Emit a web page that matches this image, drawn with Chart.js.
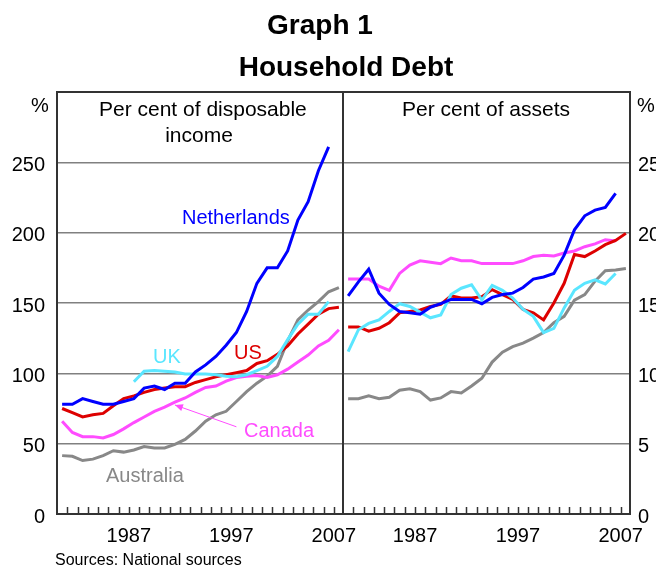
<!DOCTYPE html>
<html>
<head>
<meta charset="utf-8">
<script src="https://cdn.jsdelivr.net/npm/chart.js@4.4.1/dist/chart.umd.min.js"></script>
<style>
  html, body { margin:0; padding:0; background:#fff; }
  #wrap { position:relative; width:656px; height:567px; overflow:hidden; font-family:"Liberation Sans", Arial, sans-serif; }
  canvas { position:absolute; left:0; top:0; }
  .t { position:absolute; white-space:nowrap; color:#000; }
</style>
</head>
<body>
<div id="wrap">
  <canvas id="cLeft" width="656" height="567"></canvas>
  <canvas id="cRight" width="656" height="567"></canvas>
  <div class="t" style="left:220px;width:200px;text-align:center;top:11px;font-size:28px;line-height:28px;font-weight:bold;">Graph 1</div>
  <div class="t" style="left:196px;width:300px;text-align:center;top:53px;font-size:28px;line-height:28px;font-weight:bold;">Household Debt</div>
  <div class="t" style="left:99px;width:200px;text-align:center;top:96px;font-size:21px;line-height:26px;">Per cent of disposable<br>income</div>
  <div class="t" style="left:386px;width:200px;text-align:center;top:96px;font-size:21px;line-height:26px;">Per cent of assets</div>
  <div class="t" style="left:31px;top:95px;font-size:20px;line-height:20px;">%</div>
  <div class="t" style="left:637px;top:95px;font-size:20px;line-height:20px;">%</div>
  <div class="t" style="left:182px;top:207px;font-size:20px;line-height:20px;color:#0000ff;">Netherlands</div>
  <div class="t" style="left:153px;top:346px;font-size:20px;line-height:20px;color:#5ae6ff;">UK</div>
  <div class="t" style="left:234px;top:342px;font-size:20px;line-height:20px;color:#dd0000;">US</div>
  <div class="t" style="left:244px;top:420px;font-size:20px;line-height:20px;color:#ff4cff;">Canada</div>
  <div class="t" style="left:106px;top:465px;font-size:20px;line-height:20px;color:#888888;">Australia</div>
  <div class="t" style="left:55px;top:552px;font-size:16px;line-height:16px;">Sources: National sources</div>
</div>
<script>
// ---- data ----
const years = [1980,1981,1982,1983,1984,1985,1986,1987,1988,1989,1990,1991,1992,1993,1994,1995,1996,1997,1998,1999,2000,2001,2002,2003,2004,2005,2006,2007];

// Per cent of disposable income
const netherlandsIncome = [78,78,82,80,78,78,80,82,89.5,91,88.5,93,93,101,106,112,120,129,144,164,175,175,187,209,222,244,261,null];
const ukIncome = [null,null,null,null,null,null,null,94,101.5,102,101.5,101,99.5,99.5,99.5,99,98,97.5,99,102,105,112,124,135,142,142,151,null];
const usIncome = [75,72,69,70.5,71.5,77,82,84,86.5,88.5,89.5,90.5,90.5,93.5,95.5,97.5,99,100.5,102,107,109,113.5,119.5,128,135,142,146,147];
const canadaIncome = [66,58,55,55,54,56.5,60.5,65,69,73,76,79.5,82.5,86.5,90,91,94.5,97,98,98.5,97,99,103,108,113,119.5,123.5,131];
const australiaIncome = [41.5,41,38,39,41.5,45,44,45.5,48,47,47,49.5,53,59,66,70.5,73,80,87,93,98,105,123,138,145,151,158,161];

// Per cent of assets
const netherlandsAssets = [15.5,16.5,17.4,15.7,14.9,14.4,14.3,14.2,14.7,14.95,15.25,15.25,15.25,14.95,15.4,15.6,15.7,16.1,16.7,16.85,17.1,18.4,20.2,21.2,21.6,21.8,22.8,null];
const ukAssets = [11.55,13.1,13.55,13.8,14.4,14.95,14.75,14.35,13.95,14.15,15.6,16.05,16.3,15.2,16.25,15.9,15.35,14.55,14.05,12.9,13.2,14.65,15.9,16.4,16.65,16.35,17.1,null];
const usAssets = [13.3,13.3,13.0,13.2,13.6,14.3,14.4,14.5,14.75,14.9,15.5,15.35,15.35,15.45,15.95,15.6,15.25,14.55,14.3,13.8,15.0,16.4,18.45,18.3,18.7,19.15,19.45,19.95];
const canadaAssets = [16.7,16.7,16.7,16.2,15.9,17.1,17.7,18.0,17.9,17.8,18.2,18.0,18.0,17.8,17.8,17.8,17.8,18.0,18.3,18.4,18.35,18.55,18.7,19.0,19.2,19.5,19.4,null];
const australiaAssets = [8.2,8.2,8.4,8.2,8.3,8.8,8.9,8.7,8.1,8.25,8.7,8.6,9.1,9.65,10.8,11.5,11.9,12.15,12.5,12.9,13.6,14.05,15.2,15.6,16.55,17.3,17.35,17.45];

// tick labels
const xTickLabels = [1987, 1997, 2007];
const yTicksLeft = [0, 50, 100, 150, 200, 250];
const yTicksRight = [0, 5, 10, 15, 20, 25];

// ---- styling ----
const FONT = '"Liberation Sans", Arial, sans-serif';
Chart.defaults.font.family = FONT;
const colors = { nl:'#0000ff', uk:'#5ae6ff', us:'#dd0000', ca:'#ff4cff', au:'#888888' };

function series(arr) { return years.map((yr, i) => ({ x: yr + 0.5, y: arr[i] == null ? null : arr[i] })); }
function ds(arr, color) {
  return { data: series(arr), borderColor: color, backgroundColor: color, borderWidth: 3, pointRadius: 0, tension: 0, fill: false, spanGaps: false };
}

const framePlugin = {
  id: 'frame',
  afterDraw(chart) {
    const { ctx, chartArea: a } = chart;
    const xs = chart.scales.x;
    ctx.save();
    ctx.strokeStyle = '#333';
    ctx.lineWidth = 1.5;
    years.slice(1).forEach(yr => {
      const px = Math.round(xs.getPixelForValue(yr)) + 0.5;
      ctx.beginPath(); ctx.moveTo(px, a.bottom); ctx.lineTo(px, a.bottom - 7); ctx.stroke();
    });
    ctx.lineWidth = 2;
    ctx.strokeRect(a.left, a.top, a.right - a.left, a.bottom - a.top);
    ctx.restore();
  }
};

const arrowPlugin = {
  id: 'arrow',
  afterDatasetsDraw(chart) {
    const { ctx } = chart;
    const xs = chart.scales.x, ys = chart.scales.y;
    const x0 = xs.getPixelForValue(1997.5), y0 = ys.getPixelForValue(62);
    const x1 = xs.getPixelForValue(1991.5), y1 = ys.getPixelForValue(77.5);
    ctx.save();
    ctx.strokeStyle = colors.ca; ctx.fillStyle = colors.ca; ctx.lineWidth = 1;
    ctx.beginPath(); ctx.moveTo(x0, y0); ctx.lineTo(x1, y1); ctx.stroke();
    const ang = Math.atan2(y1 - y0, x1 - x0);
    const L = 8, W = 3.5;
    ctx.beginPath();
    ctx.moveTo(x1, y1);
    ctx.lineTo(x1 - L*Math.cos(ang) + W*Math.sin(ang), y1 - L*Math.sin(ang) - W*Math.cos(ang));
    ctx.lineTo(x1 - L*Math.cos(ang) - W*Math.sin(ang), y1 - L*Math.sin(ang) + W*Math.cos(ang));
    ctx.closePath(); ctx.fill();
    ctx.restore();
  }
};

function xScale() {
  return {
    type: 'linear', min: 1980, max: 2007.9,
    afterBuildTicks: s => { s.ticks = xTickLabels.map(v => ({ value: v })); },
    ticks: { autoSkip: false, maxRotation: 0, color: '#000', font: { size: 20, family: FONT }, padding: 10, callback: v => String(v) },
    grid: { display: false, drawTicks: false },
    border: { display: false },
    afterFit: s => { s.height = 53; }
  };
}

function yScale(ticksArr, max, position, width, pad) {
  return {
    position, min: 0, max,
    afterBuildTicks: s => { s.ticks = ticksArr.map(v => ({ value: v })); },
    ticks: { color: '#000', font: { size: 20, family: FONT }, padding: pad, labelOffset: 3, callback: v => String(v) },
    grid: { color: c => (c.tick && c.tick.value === 0) ? 'rgba(0,0,0,0)' : '#808080', lineWidth: 1.5, drawTicks: false },
    border: { display: false },
    afterFit: s => { s.width = width; }
  };
}

const common = {
  responsive: false, animation: false, devicePixelRatio: 1,
  plugins: { legend: { display: false }, tooltip: { enabled: false }, title: { display: false } },
  elements: { point: { radius: 0 }, line: { tension: 0 } }
};

new Chart(document.getElementById('cLeft'), {
  type: 'line',
  data: { datasets: [ ds(netherlandsIncome, colors.nl), ds(ukIncome, colors.uk), ds(usIncome, colors.us), ds(canadaIncome, colors.ca), ds(australiaIncome, colors.au) ] },
  options: Object.assign({}, common, {
    layout: { padding: { left: 0, right: 313, top: 92, bottom: 0 } },
    scales: { x: xScale(), y: yScale(yTicksLeft, 300, 'left', 57, 12) }
  }),
  plugins: [framePlugin, arrowPlugin]
});

new Chart(document.getElementById('cRight'), {
  type: 'line',
  data: { datasets: [ ds(netherlandsAssets, colors.nl), ds(ukAssets, colors.uk), ds(usAssets, colors.us), ds(canadaAssets, colors.ca), ds(australiaAssets, colors.au) ] },
  options: Object.assign({}, common, {
    layout: { padding: { left: 343, right: 0, top: 92, bottom: 0 } },
    scales: { x: xScale(), y: yScale(yTicksRight, 30, 'right', 26, 8) }
  }),
  plugins: [framePlugin]
});
</script>
</body>
</html>
